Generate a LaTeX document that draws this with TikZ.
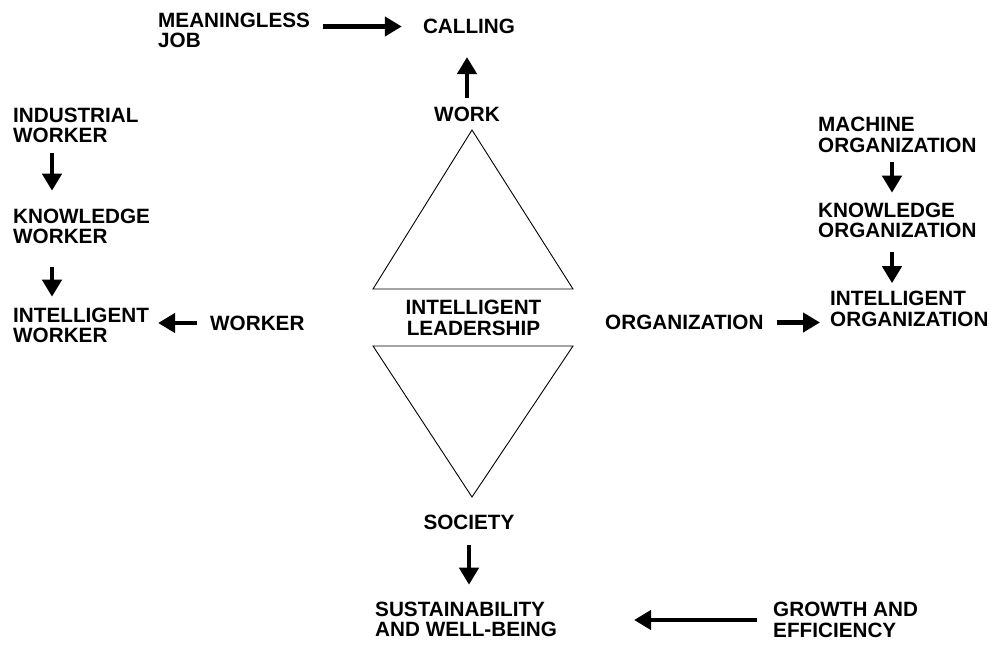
\documentclass[tikz,border=0pt]{standalone}
\usepackage{fontspec}
\setmainfont{Liberation Sans}
\usetikzlibrary{arrows.meta,calc,positioning}

\begin{document}
\begin{tikzpicture}[%
    x=1pt, y=-1pt,
    >={Triangle[length=17pt,width=19pt]},
    txt/.style={font=\fontsize{20.7}{20.5}\selectfont\bfseries, inner sep=0pt, align=left},
    ctxt/.style={txt, align=center},
    thick arrow/.style={->, line width=4.5pt},
    tri/.style={draw, line width=0.9pt, line join=miter}
  ]
  \useasboundingbox (0,0) rectangle (994,646);

  % top
  \node[txt, anchor=west] (meaningless) at (158,30.5) {MEANINGLESS\\JOB};
  \node[ctxt] (calling) at (469,26.5) {CALLING};
  \node[ctxt] (work) at (467,114.5) {WORK};

  % centre
  \node[ctxt] (leadership) at (473.5,318) {INTELLIGENT\\LEADERSHIP};
  \draw[tri] (373,289) -- (472,130) -- (573,289) -- cycle;
  \draw[tri] (373,346) -- (573,346) -- (472,497) -- cycle;
  \node[ctxt] (society) at (469,522.5) {SOCIETY};

  % bottom
  \node[txt, anchor=west] (sustain) at (375,619.5) {SUSTAINABILITY\\AND WELL-BEING};
  \node[txt, anchor=west] (growth) at (773,620) {GROWTH AND\\EFFICIENCY};

  % left
  \node[txt, anchor=west] (industrial) at (13,125.5) {INDUSTRIAL\\WORKER};
  \node[txt, anchor=west] (knowworker) at (13,226.5) {KNOWLEDGE\\WORKER};
  \node[txt, anchor=west] (intworker) at (13,325.5) {INTELLIGENT\\WORKER};
  \node[txt, anchor=west] (worker) at (210,323) {WORKER};

  % right
  \node[txt, anchor=west] (machine) at (818,135) {MACHINE\\ORGANIZATION};
  \node[txt, anchor=west] (knoworg) at (818,220.5) {KNOWLEDGE\\ORGANIZATION};
  \node[txt, anchor=west] (intorg) at (830,309) {INTELLIGENT\\ORGANIZATION};
  \node[txt, anchor=west] (organization) at (605,322.5) {ORGANIZATION};

  \draw[thick arrow, shorten <=13pt, shorten >=21pt] (meaningless.east |- calling.west) -- (calling.west);
  \draw[thick arrow, shorten <=9pt, shorten >=23pt] (work.north) -- (work.north |- calling.south);
  \draw[thick arrow, shorten <=15pt, shorten >=17pt] (society.south) -- (society.south |- sustain.north);
  \draw[thick arrow, shorten <=16pt, shorten >=77pt] (growth.west) -- (growth.west -| sustain.east);

  \draw[thick arrow, shorten <=10pt, shorten >=18pt] ([xshift=39pt]industrial.south west) -- ([xshift=39pt]knowworker.north west);
  \draw[thick arrow, shorten <=23pt, shorten >=11pt] ([xshift=39pt]knowworker.south west) -- ([xshift=39pt]intworker.north west);
  \draw[thick arrow, shorten <=13pt, shorten >=9pt] (worker.west) -- (worker.west -| intworker.east);

  \draw[thick arrow, shorten <=9pt, shorten >=10pt] ([xshift=74pt]machine.south west) -- ([xshift=74pt]knoworg.north west);
  \draw[thick arrow, shorten <=14pt, shorten >=8pt] ([xshift=74pt]knoworg.south west) -- ([xshift=74pt]knoworg.south west |- intorg.north);
  \draw[thick arrow, shorten <=13pt, shorten >=10pt] (organization.east) -- (organization.east -| intorg.west);

  \end{tikzpicture}
\end{document}
